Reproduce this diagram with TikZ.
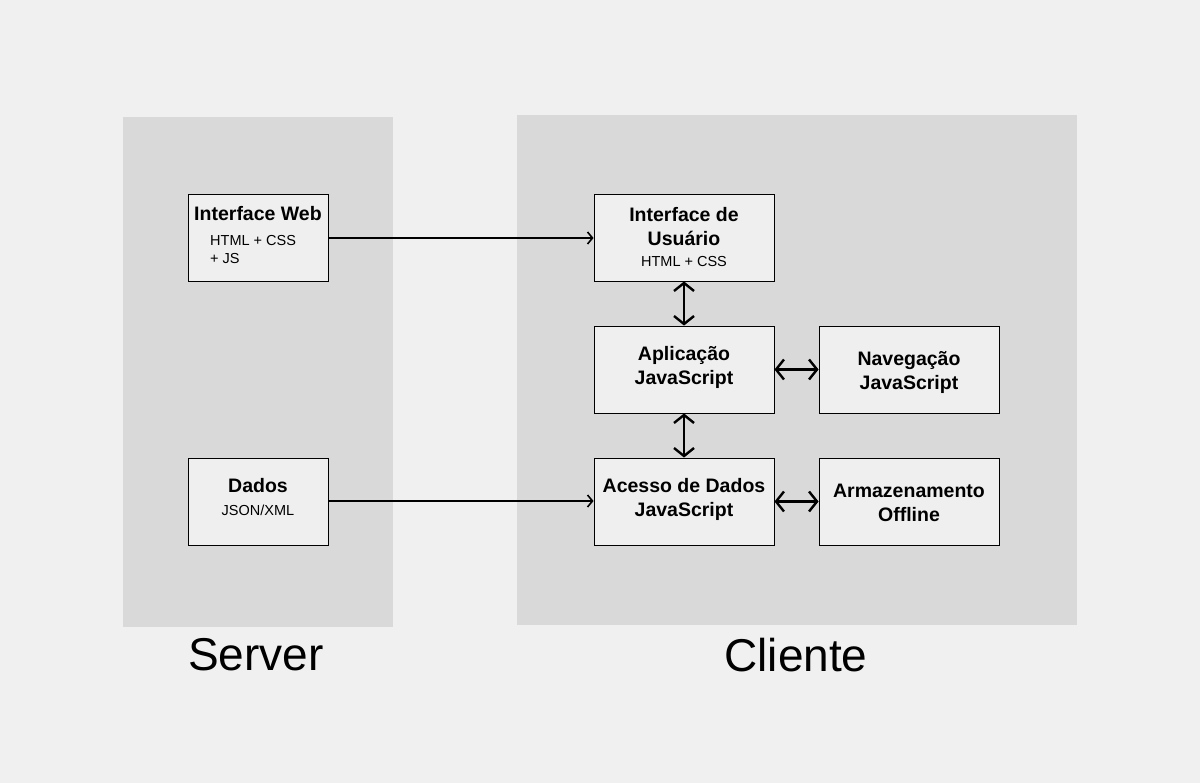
\documentclass[tikz,border=0pt]{standalone}
\usepackage{fontspec}
\setmainfont{Liberation Sans}
\usetikzlibrary{arrows.meta}
\definecolor{bgc}{HTML}{F0F0F0}
\definecolor{panel}{HTML}{D9D9D9}
\definecolor{boxc}{HTML}{EFEFEF}
\tikzset{
  panelbox/.style={fill=panel, draw=none},
  compbox/.style={draw=black, line width=0.9pt, fill=boxc, inner sep=0pt},
  ttl/.style={font=\fontsize{19.5}{24}\selectfont\bfseries, align=center, inner sep=0pt},
  sub/.style={font=\fontsize{14.5}{18}\selectfont, inner sep=0pt},
  big/.style={font=\fontsize{46}{50}\selectfont, inner sep=0pt},
  link/.style={line width=1.6pt, -{Straight Barb[length=5pt, width=12pt, line width=1.6pt]}},
  dlink/.style={line width=2.4pt, {Straight Barb[length=8pt, width=20pt, line width=2.4pt]}-{Straight Barb[length=8pt, width=20pt, line width=2.4pt]}}
}
\begin{document}
\begin{tikzpicture}[x=1pt, y=-1pt]
\fill[bgc] (0,0) rectangle (1200,783);
\useasboundingbox (0,0) rectangle (1200,783);
% panels
\fill[panelbox] (123,117) rectangle (393,627);
\fill[panelbox] (517,115) rectangle (1077,625);
% boxes
\node[compbox, minimum width=140pt, minimum height=87pt] (web) at (258,237.5) {};
\node[compbox, minimum width=140pt, minimum height=87pt] (dados) at (258,501.5) {};
\node[compbox, minimum width=180pt, minimum height=87pt] (ui) at (684,237.5) {};
\node[compbox, minimum width=180pt, minimum height=87pt] (app) at (684,369.5) {};
\node[compbox, minimum width=180pt, minimum height=87pt] (nav) at (909,369.5) {};
\node[compbox, minimum width=180pt, minimum height=87pt] (acc) at (684,501.5) {};
\node[compbox, minimum width=180pt, minimum height=87pt] (arm) at (909,501.5) {};
% texts
\node[ttl] (tweb) at (258,214) {Interface Web};
\node[sub, anchor=west] (tweb2) at (210,241) {HTML + CSS};
\node[sub, anchor=west] (tweb3) at (210,258.5) {+ JS};
\node[ttl] (tdados) at (258,485.5) {Dados};
\node[sub] (tdados2) at (258,510.5) {JSON/XML};
\node[ttl] (tui) at (684,227) {Interface de\\Usuário};
\node[sub] (tui2) at (684,262) {HTML + CSS};
\node[ttl] (tapp) at (684,367) {Aplicação\\JavaScript};
\node[ttl] (tnav) at (909,372) {Navegação\\JavaScript};
\node[ttl] (tacc) at (684,499) {Acesso de Dados\\JavaScript};
\node[ttl] (tarm) at (909,502.5) {Armazenamento\\Offline};
\node[big] (server) at (256,655) {Server};
\node[big] (cliente) at (796,655) {Cliente};
% connectors
\draw[link] (web.east |- 0,238) -- (ui.west |- 0,238);
\draw[link] (dados.east |- 0,501) -- (acc.west |- 0,501);
\draw[dlink] (ui.south) -- (app.north);
\draw[dlink] (app.south) -- (acc.north);
\draw[dlink] (app.east) -- (nav.west);
\draw[dlink] (acc.east) -- (arm.west);
\end{tikzpicture}
\end{document}
